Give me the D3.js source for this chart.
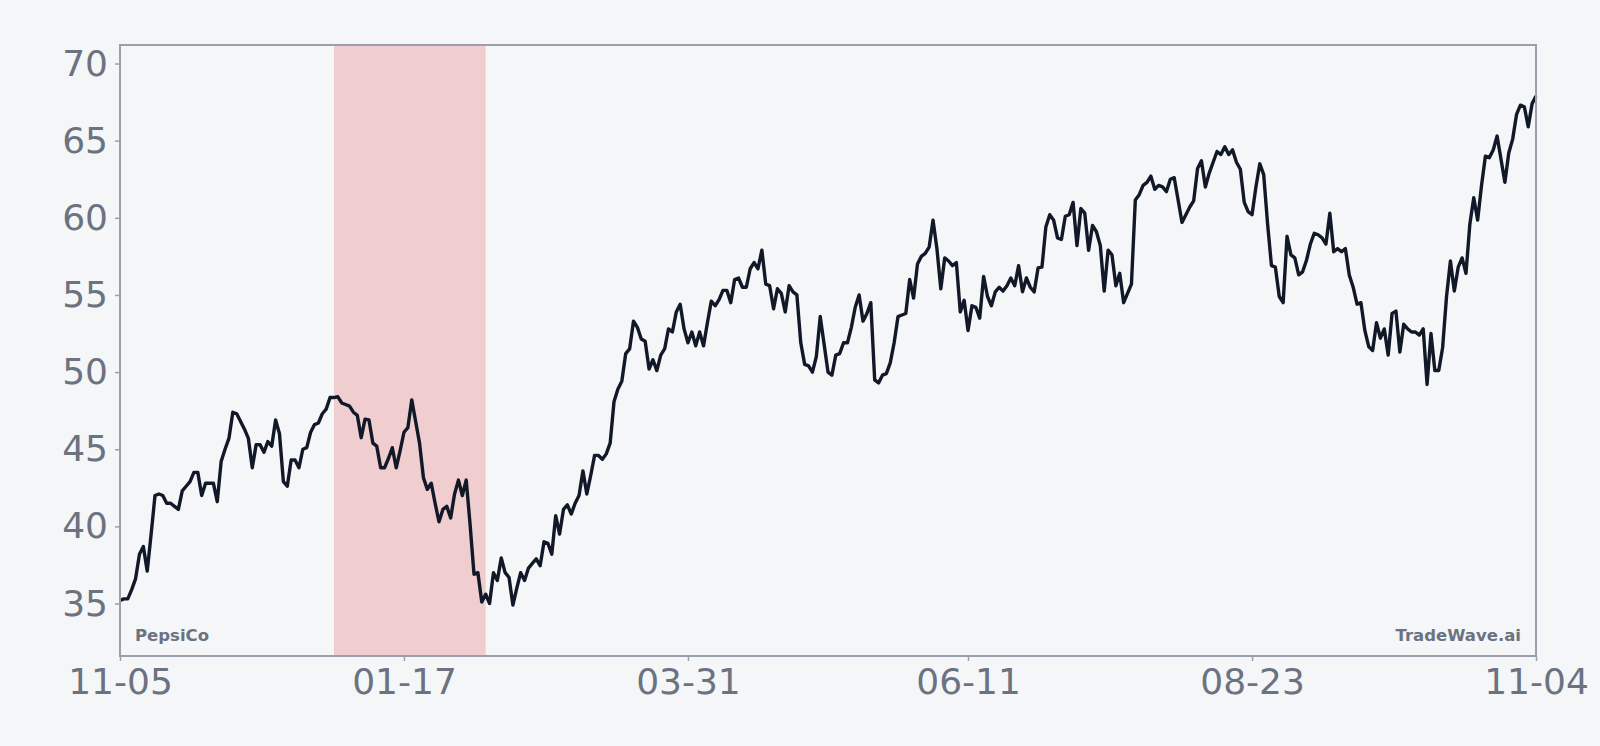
<!DOCTYPE html>
<html>
<head>
<meta charset="utf-8">
<script src="https://cdn.jsdelivr.net/npm/d3@7"></script>
<style>
  body { margin: 0; background: #f5f6f8; }
  svg { display: block; font-family: "DejaVu Sans", sans-serif; }
</style>
</head>
<body>
<svg width="1600" height="746"></svg>
<script>
// daily closes, one per calendar day from startDate
const startDate = "2022-11-05";
const closes = [
  35.2, 35.3, 35.3, 35.9, 36.6, 38.2, 38.7, 37.1, 39.5, 42.0,
  42.1, 42.0, 41.5, 41.5, 41.3, 41.1, 42.3, 42.6, 42.9, 43.5,
  43.5, 42.0, 42.8, 42.8, 42.8, 41.6, 44.2, 45.0, 45.7, 47.4,
  47.3, 46.8, 46.3, 45.7, 43.8, 45.3, 45.3, 44.8, 45.5, 45.2,
  46.9, 46.0, 42.9, 42.6, 44.3, 44.3, 43.8, 45.0, 45.1, 46.1,
  46.6, 46.7, 47.3, 47.6, 48.35, 48.35, 48.4, 48.0, 47.9, 47.8,
  47.4, 47.2, 45.75, 46.95, 46.9, 45.4, 45.2, 43.8, 43.8, 44.4,
  45.1, 43.8, 44.9, 46.1, 46.4, 48.2, 46.8, 45.4, 43.15, 42.4,
  42.8, 41.5, 40.3, 41.1, 41.3, 40.55, 42.1, 43.0, 42.0, 43.0,
  40.1, 36.9, 37.0, 35.1, 35.6, 35.0, 37.0, 36.5, 37.95, 37.0,
  36.7, 34.9, 36.0, 37.0, 36.5, 37.3, 37.6, 37.9, 37.45, 39.0,
  38.9, 38.2, 40.7, 39.5, 41.1, 41.4, 40.8, 41.5, 42.0, 43.6,
  42.1, 43.3, 44.6, 44.6, 44.35, 44.7, 45.4, 48.1, 48.9, 49.4,
  51.2, 51.5, 53.3, 52.9, 52.15, 52.0, 50.2, 50.8, 50.1, 51.1,
  51.5, 52.8, 52.6, 53.9, 54.4, 52.8, 51.9, 52.6, 51.7, 52.6,
  51.7, 53.2, 54.6, 54.3, 54.7, 55.3, 55.3, 54.5, 56.0, 56.1,
  55.5, 55.5, 56.7, 57.1, 56.7, 57.9, 55.7, 55.6, 54.1, 55.4,
  55.1, 53.9, 55.6, 55.2, 55.0, 51.9, 50.5, 50.4, 50.0, 51.0,
  53.6, 51.8, 50.0, 49.8, 51.1, 51.2, 51.9, 51.9, 52.9, 54.2,
  55.0, 53.3, 53.8, 54.5, 49.5, 49.3, 49.8, 49.9, 50.6, 51.9,
  53.6, 53.7, 53.8, 56.0, 54.8, 57.0, 57.5, 57.7, 58.1, 59.85,
  58.0, 55.4, 57.4, 57.2, 56.9, 57.1, 53.9, 54.65, 52.7, 54.3,
  54.2, 53.5, 56.2, 54.9, 54.3, 55.2, 55.5, 55.25, 55.6, 56.1,
  55.6, 56.9, 55.2, 56.1, 55.5, 55.2, 56.75, 56.8, 59.4, 60.2,
  59.85, 58.7, 58.6, 60.1, 60.2, 61.0, 58.2, 60.6, 60.3, 57.9,
  59.5, 59.1, 58.2, 55.25, 57.9, 57.6, 55.6, 56.4, 54.5, 55.1,
  55.7, 61.15, 61.5, 62.1, 62.3, 62.7, 61.85, 62.1, 62.0, 61.7,
  62.5, 62.6, 61.15, 59.7, 60.2, 60.7, 61.1, 63.2, 63.7, 62.0,
  62.9, 63.6, 64.3, 64.1, 64.6, 64.1, 64.4, 63.6, 63.15, 61.0,
  60.4, 60.2, 62.0, 63.5, 62.8, 59.6, 56.9, 56.8, 54.9, 54.5,
  58.8, 57.6, 57.4, 56.3, 56.5, 57.25, 58.3, 59.0, 58.9, 58.7,
  58.3, 60.3, 57.8, 58.0, 57.8, 58.0, 56.3, 55.5, 54.4, 54.5,
  52.7, 51.65, 51.4, 53.2, 52.2, 52.8, 51.1, 53.8, 53.95, 51.3,
  53.1, 52.8, 52.6, 52.6, 52.4, 52.8, 49.2, 52.5, 50.1, 50.1,
  51.6, 54.9, 57.2, 55.25, 56.8, 57.4, 56.4, 59.6, 61.3, 59.85,
  62.1, 64.0, 63.9, 64.4, 65.3, 63.8, 62.3, 64.2, 65.1, 66.7,
  67.3, 67.2, 65.9, 67.4, 67.9
];
const shadeRange = ["2022-12-30", "2023-02-07"];
const xTickDates = ["2022-11-05", "2023-01-17", "2023-03-31", "2023-06-11", "2023-08-23", "2023-11-04"];
const yTicks = [35, 40, 45, 50, 55, 60, 65, 70];
const tickerLabel = "PepsiCo";
const sourceLabel = "TradeWave.ai";

const W = 1600, H = 746;
const margin = { top: 45, right: 64, bottom: 90, left: 120 };
const width = W - margin.left - margin.right;
const height = H - margin.top - margin.bottom;
const font = "'DejaVu Sans', sans-serif";

const parse = d3.timeParse("%Y-%m-%d");
const t0 = parse(startDate);
const data = closes.map((v, i) => ({ date: d3.timeDay.offset(t0, i), value: v }));

const x = d3.scaleTime()
  .domain(d3.extent(data, d => d.date))
  .range([0, width]);

const [lo, hi] = d3.extent(closes);
const pad = (hi - lo) * 0.1;
const y = d3.scaleLinear().domain([lo - pad, hi + pad]).range([height, 0]);

const svg = d3.select("svg");
svg.append("rect").attr("width", W).attr("height", H).attr("fill", "#f5f6f8");

const chart = svg.append("g")
  .attr("transform", "translate(" + margin.left + "," + margin.top + ")");

// shaded period
chart.append("rect")
  .attr("x", x(parse(shadeRange[0])))
  .attr("width", x(parse(shadeRange[1])) - x(parse(shadeRange[0])))
  .attr("y", 0)
  .attr("height", height)
  .attr("fill", "#f0cdce");

const line = d3.line()
  .x(d => x(d.date))
  .y(d => y(d.value));

chart.append("path")
  .datum(data)
  .attr("fill", "none")
  .attr("stroke", "#111827")
  .attr("stroke-width", 3.4)
  .attr("stroke-linejoin", "round")
  .attr("d", line);

// frame
chart.append("rect")
  .attr("width", width)
  .attr("height", height)
  .attr("fill", "none")
  .attr("stroke", "#9a9fa9")
  .attr("stroke-width", 2);

const axisColor = "#9a9fa9";
const labelColor = "#6b7280";

const xAxis = d3.axisBottom(x)
  .tickValues(xTickDates.map(parse))
  .tickFormat(d3.timeFormat("%m-%d"))
  .tickSize(5)
  .tickPadding(7);

const gx = chart.append("g")
  .attr("transform", "translate(0," + height + ")")
  .call(xAxis)
  .attr("font-family", font)
  .attr("font-size", 36);
gx.select(".domain").remove();
gx.selectAll(".tick line").attr("stroke", axisColor).attr("stroke-width", 1.5);
gx.selectAll(".tick text")
  .attr("fill", labelColor)
  .attr("dy", "0.71em");

const yAxis = d3.axisLeft(y)
  .tickValues(yTicks)
  .tickSize(5)
  .tickPadding(7);

const gy = chart.append("g").call(yAxis)
  .attr("font-family", font)
  .attr("font-size", 36);
gy.select(".domain").remove();
gy.selectAll(".tick line").attr("stroke", axisColor).attr("stroke-width", 1.5);
gy.selectAll(".tick text").attr("fill", labelColor);

// corner labels
chart.append("text")
  .attr("x", 15)
  .attr("y", height - 15)
  .attr("fill", labelColor)
  .attr("font-family", font)
  .attr("font-size", 16.5)
  .attr("font-weight", "bold")
  .text(tickerLabel);

chart.append("text")
  .attr("x", width - 15)
  .attr("y", height - 15)
  .attr("text-anchor", "end")
  .attr("fill", labelColor)
  .attr("font-family", font)
  .attr("font-size", 16.5)
  .attr("font-weight", "bold")
  .text(sourceLabel);
</script>
</body>
</html>
